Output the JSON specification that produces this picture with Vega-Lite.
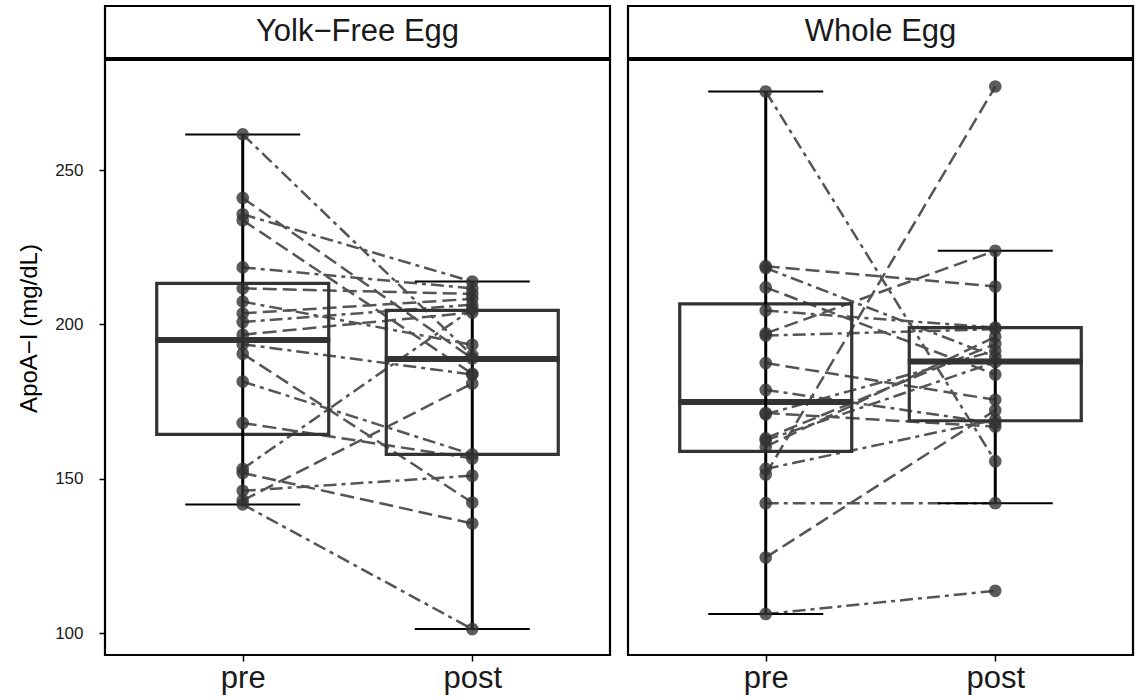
{
  "$schema": "https://vega.github.io/schema/vega-lite/v6.json",
  "padding": {"left": 16, "top": 4, "right": 0, "bottom": 0},
  "datasets": {
    "strips": [{"diet": "Yolk−Free Egg"}, {"diet": "Whole Egg"}],
    "pts": [
      {"diet": "Yolk−Free Egg", "id": "Y01", "time": "pre", "apoa": 261.6}, {"diet": "Yolk−Free Egg", "id": "Y01", "time": "post", "apoa": 190.0},
      {"diet": "Yolk−Free Egg", "id": "Y02", "time": "pre", "apoa": 241.0}, {"diet": "Yolk−Free Egg", "id": "Y02", "time": "post", "apoa": 189.0},
      {"diet": "Yolk−Free Egg", "id": "Y03", "time": "pre", "apoa": 235.7}, {"diet": "Yolk−Free Egg", "id": "Y03", "time": "post", "apoa": 213.9},
      {"diet": "Yolk−Free Egg", "id": "Y04", "time": "pre", "apoa": 233.8}, {"diet": "Yolk−Free Egg", "id": "Y04", "time": "post", "apoa": 184.0},
      {"diet": "Yolk−Free Egg", "id": "Y05", "time": "pre", "apoa": 218.5}, {"diet": "Yolk−Free Egg", "id": "Y05", "time": "post", "apoa": 211.7},
      {"diet": "Yolk−Free Egg", "id": "Y06", "time": "pre", "apoa": 211.7}, {"diet": "Yolk−Free Egg", "id": "Y06", "time": "post", "apoa": 209.9},
      {"diet": "Yolk−Free Egg", "id": "Y07", "time": "pre", "apoa": 207.4}, {"diet": "Yolk−Free Egg", "id": "Y07", "time": "post", "apoa": 193.4},
      {"diet": "Yolk−Free Egg", "id": "Y08", "time": "pre", "apoa": 203.6}, {"diet": "Yolk−Free Egg", "id": "Y08", "time": "post", "apoa": 208.3},
      {"diet": "Yolk−Free Egg", "id": "Y09", "time": "pre", "apoa": 200.8}, {"diet": "Yolk−Free Egg", "id": "Y09", "time": "post", "apoa": 206.4},
      {"diet": "Yolk−Free Egg", "id": "Y10", "time": "pre", "apoa": 196.7}, {"diet": "Yolk−Free Egg", "id": "Y10", "time": "post", "apoa": 203.9},
      {"diet": "Yolk−Free Egg", "id": "Y11", "time": "pre", "apoa": 193.6}, {"diet": "Yolk−Free Egg", "id": "Y11", "time": "post", "apoa": 183.8},
      {"diet": "Yolk−Free Egg", "id": "Y12", "time": "pre", "apoa": 190.5}, {"diet": "Yolk−Free Egg", "id": "Y12", "time": "post", "apoa": 142.3},
      {"diet": "Yolk−Free Egg", "id": "Y13", "time": "pre", "apoa": 181.5}, {"diet": "Yolk−Free Egg", "id": "Y13", "time": "post", "apoa": 157.9},
      {"diet": "Yolk−Free Egg", "id": "Y14", "time": "pre", "apoa": 168.1}, {"diet": "Yolk−Free Egg", "id": "Y14", "time": "post", "apoa": 156.6},
      {"diet": "Yolk−Free Egg", "id": "Y15", "time": "pre", "apoa": 153.2}, {"diet": "Yolk−Free Egg", "id": "Y15", "time": "post", "apoa": 205.0},
      {"diet": "Yolk−Free Egg", "id": "Y16", "time": "pre", "apoa": 151.9}, {"diet": "Yolk−Free Egg", "id": "Y16", "time": "post", "apoa": 135.5},
      {"diet": "Yolk−Free Egg", "id": "Y17", "time": "pre", "apoa": 146.1}, {"diet": "Yolk−Free Egg", "id": "Y17", "time": "post", "apoa": 151.0},
      {"diet": "Yolk−Free Egg", "id": "Y18", "time": "pre", "apoa": 143.0}, {"diet": "Yolk−Free Egg", "id": "Y18", "time": "post", "apoa": 180.9},
      {"diet": "Yolk−Free Egg", "id": "Y19", "time": "pre", "apoa": 141.7}, {"diet": "Yolk−Free Egg", "id": "Y19", "time": "post", "apoa": 101.3},
      {"diet": "Whole Egg", "id": "W01", "time": "pre", "apoa": 275.5}, {"diet": "Whole Egg", "id": "W01", "time": "post", "apoa": 155.7},
      {"diet": "Whole Egg", "id": "W02", "time": "pre", "apoa": 218.9}, {"diet": "Whole Egg", "id": "W02", "time": "post", "apoa": 212.3},
      {"diet": "Whole Egg", "id": "W03", "time": "pre", "apoa": 218.3}, {"diet": "Whole Egg", "id": "W03", "time": "post", "apoa": 189.5},
      {"diet": "Whole Egg", "id": "W04", "time": "pre", "apoa": 212.0}, {"diet": "Whole Egg", "id": "W04", "time": "post", "apoa": 183.8},
      {"diet": "Whole Egg", "id": "W05", "time": "pre", "apoa": 204.5}, {"diet": "Whole Egg", "id": "W05", "time": "post", "apoa": 199.0},
      {"diet": "Whole Egg", "id": "W06", "time": "pre", "apoa": 197.1}, {"diet": "Whole Egg", "id": "W06", "time": "post", "apoa": 223.9},
      {"diet": "Whole Egg", "id": "W07", "time": "pre", "apoa": 196.4}, {"diet": "Whole Egg", "id": "W07", "time": "post", "apoa": 198.5},
      {"diet": "Whole Egg", "id": "W08", "time": "pre", "apoa": 187.5}, {"diet": "Whole Egg", "id": "W08", "time": "post", "apoa": 175.6},
      {"diet": "Whole Egg", "id": "W09", "time": "pre", "apoa": 178.8}, {"diet": "Whole Egg", "id": "W09", "time": "post", "apoa": 168.0},
      {"diet": "Whole Egg", "id": "W10", "time": "pre", "apoa": 171.3}, {"diet": "Whole Egg", "id": "W10", "time": "post", "apoa": 166.9},
      {"diet": "Whole Egg", "id": "W11", "time": "pre", "apoa": 170.9}, {"diet": "Whole Egg", "id": "W11", "time": "post", "apoa": 191.5},
      {"diet": "Whole Egg", "id": "W12", "time": "pre", "apoa": 163.1}, {"diet": "Whole Egg", "id": "W12", "time": "post", "apoa": 193.7},
      {"diet": "Whole Egg", "id": "W13", "time": "pre", "apoa": 162.5}, {"diet": "Whole Egg", "id": "W13", "time": "post", "apoa": 187.8},
      {"diet": "Whole Egg", "id": "W14", "time": "pre", "apoa": 160.4}, {"diet": "Whole Egg", "id": "W14", "time": "post", "apoa": 196.0},
      {"diet": "Whole Egg", "id": "W15", "time": "pre", "apoa": 153.2}, {"diet": "Whole Egg", "id": "W15", "time": "post", "apoa": 169.1},
      {"diet": "Whole Egg", "id": "W16", "time": "pre", "apoa": 151.4}, {"diet": "Whole Egg", "id": "W16", "time": "post", "apoa": 277.1},
      {"diet": "Whole Egg", "id": "W17", "time": "pre", "apoa": 142.1}, {"diet": "Whole Egg", "id": "W17", "time": "post", "apoa": 142.1},
      {"diet": "Whole Egg", "id": "W18", "time": "pre", "apoa": 124.5}, {"diet": "Whole Egg", "id": "W18", "time": "post", "apoa": 172.2},
      {"diet": "Whole Egg", "id": "W19", "time": "pre", "apoa": 106.2}, {"diet": "Whole Egg", "id": "W19", "time": "post", "apoa": 113.7}
    ],
    "box": [
      {"diet": "Yolk−Free Egg", "time": "pre", "lo": 141.7, "q1": 164.4, "med": 195.0, "q3": 213.3, "hi": 261.6},
      {"diet": "Yolk−Free Egg", "time": "post", "lo": 101.3, "q1": 157.9, "med": 188.8, "q3": 204.6, "hi": 213.9},
      {"diet": "Whole Egg", "time": "pre", "lo": 106.2, "q1": 158.9, "med": 174.9, "q3": 206.7, "hi": 275.5},
      {"diet": "Whole Egg", "time": "post", "lo": 142.1, "q1": 168.8, "med": 188.0, "q3": 199.0, "hi": 223.9}
    ]
  },
  "hconcat": [
    {
      "spacing": -6,
      "vconcat": [
        {
          "width": 505, "height": 52,
          "view": {"stroke": "black", "strokeWidth": 2.2, "fill": "white"},
          "data": {"name": "strips"},
          "transform": [{"filter": {"field": "diet", "equal": "Yolk−Free Egg"}}],
          "mark": {"type": "text", "fontSize": 31, "color": "#1a1a1a", "font": "Liberation Sans"},
          "encoding": {
            "x": {"field": "diet", "type": "nominal", "axis": null, "scale": {"type": "point"}},
            "text": {"field": "diet"}
          }
        },
        {
          "width": 505, "height": 595,
          "layer": [
            {
              "data": {"name": "pts"},
              "transform": [{"filter": {"field": "diet", "equal": "Yolk−Free Egg"}}],
              "mark": {"type": "line", "color": "#555555", "strokeWidth": 2.5},
              "encoding": {
                "x": {"field": "time", "type": "nominal", "sort": ["pre", "post"], "scale": {"type": "point", "padding": 0.6}, "axis": {"title": null}},
                "y": {"field": "apoa", "type": "quantitative", "scale": {"domain": [92.9, 285.7], "nice": false, "zero": false}, "axis": {"title": "ApoA−I (mg/dL)", "values": [100, 150, 200, 250], "titleY": 268}},
                "detail": {"field": "id"},
                "strokeDash": {"field": "id", "type": "nominal", "scale": {"range": [[13, 5, 4, 5], [14, 6]]}, "legend": null}
              }
            },
            {
              "data": {"name": "box"},
              "transform": [{"filter": {"field": "diet", "equal": "Yolk−Free Egg"}}],
              "layer": [
                {"mark": {"type": "bar", "width": 172, "filled": false, "stroke": "#333333", "strokeWidth": 3.2},
                 "encoding": {"x": {"field": "time", "type": "nominal", "sort": ["pre", "post"]}, "y": {"field": "q1", "type": "quantitative"}, "y2": {"field": "q3"}}},
                {"mark": {"type": "tick", "size": 175, "thickness": 6, "color": "#333333", "opacity": 1},
                 "encoding": {"x": {"field": "time", "type": "nominal", "sort": ["pre", "post"]}, "y": {"field": "med", "type": "quantitative"}}},
                {"mark": {"type": "rule", "color": "black", "strokeWidth": 3},
                 "encoding": {"x": {"field": "time", "type": "nominal", "sort": ["pre", "post"]}, "y": {"field": "lo", "type": "quantitative"}, "y2": {"field": "hi"}}},
                {"mark": {"type": "tick", "size": 115, "thickness": 2, "color": "black", "opacity": 1},
                 "encoding": {"x": {"field": "time", "type": "nominal", "sort": ["pre", "post"]}, "y": {"field": "lo", "type": "quantitative"}}},
                {"mark": {"type": "tick", "size": 115, "thickness": 2, "color": "black", "opacity": 1},
                 "encoding": {"x": {"field": "time", "type": "nominal", "sort": ["pre", "post"]}, "y": {"field": "hi", "type": "quantitative"}}}
              ]
            },
            {
              "data": {"name": "pts"},
              "transform": [{"filter": {"field": "diet", "equal": "Yolk−Free Egg"}}],
              "mark": {"type": "point", "filled": true, "color": "#333333", "opacity": 0.8, "size": 160},
              "encoding": {
                "x": {"field": "time", "type": "nominal", "sort": ["pre", "post"]},
                "y": {"field": "apoa", "type": "quantitative"}
              }
            }
          ]
        }
      ]
    },
    {
      "spacing": -6,
      "vconcat": [
        {
          "width": 505, "height": 52,
          "view": {"stroke": "black", "strokeWidth": 2.2, "fill": "white"},
          "data": {"name": "strips"},
          "transform": [{"filter": {"field": "diet", "equal": "Whole Egg"}}],
          "mark": {"type": "text", "fontSize": 31, "color": "#1a1a1a", "font": "Liberation Sans"},
          "encoding": {
            "x": {"field": "diet", "type": "nominal", "axis": null, "scale": {"type": "point"}},
            "text": {"field": "diet"}
          }
        },
        {
          "width": 505, "height": 595,
          "layer": [
            {
              "data": {"name": "pts"},
              "transform": [{"filter": {"field": "diet", "equal": "Whole Egg"}}],
              "mark": {"type": "line", "color": "#555555", "strokeWidth": 2.5},
              "encoding": {
                "x": {"field": "time", "type": "nominal", "sort": ["pre", "post"], "scale": {"type": "point", "padding": 0.6}, "axis": {"title": null}},
                "y": {"field": "apoa", "type": "quantitative", "scale": {"domain": [92.9, 285.7], "nice": false, "zero": false}, "axis": null},
                "detail": {"field": "id"},
                "strokeDash": {"field": "id", "type": "nominal", "scale": {"range": [[13, 5, 4, 5], [14, 6]]}, "legend": null}
              }
            },
            {
              "data": {"name": "box"},
              "transform": [{"filter": {"field": "diet", "equal": "Whole Egg"}}],
              "layer": [
                {"mark": {"type": "bar", "width": 172, "filled": false, "stroke": "#333333", "strokeWidth": 3.2},
                 "encoding": {"x": {"field": "time", "type": "nominal", "sort": ["pre", "post"]}, "y": {"field": "q1", "type": "quantitative"}, "y2": {"field": "q3"}}},
                {"mark": {"type": "tick", "size": 175, "thickness": 6, "color": "#333333", "opacity": 1},
                 "encoding": {"x": {"field": "time", "type": "nominal", "sort": ["pre", "post"]}, "y": {"field": "med", "type": "quantitative"}}},
                {"mark": {"type": "rule", "color": "black", "strokeWidth": 3},
                 "encoding": {"x": {"field": "time", "type": "nominal", "sort": ["pre", "post"]}, "y": {"field": "lo", "type": "quantitative"}, "y2": {"field": "hi"}}},
                {"mark": {"type": "tick", "size": 115, "thickness": 2, "color": "black", "opacity": 1},
                 "encoding": {"x": {"field": "time", "type": "nominal", "sort": ["pre", "post"]}, "y": {"field": "lo", "type": "quantitative"}}},
                {"mark": {"type": "tick", "size": 115, "thickness": 2, "color": "black", "opacity": 1},
                 "encoding": {"x": {"field": "time", "type": "nominal", "sort": ["pre", "post"]}, "y": {"field": "hi", "type": "quantitative"}}}
              ]
            },
            {
              "data": {"name": "pts"},
              "transform": [{"filter": {"field": "diet", "equal": "Whole Egg"}}],
              "mark": {"type": "point", "filled": true, "color": "#333333", "opacity": 0.8, "size": 160},
              "encoding": {
                "x": {"field": "time", "type": "nominal", "sort": ["pre", "post"]},
                "y": {"field": "apoa", "type": "quantitative"}
              }
            }
          ]
        }
      ]
    }
  ],
  "spacing": 14,
  "resolve": {"scale": {"x": "independent", "y": "independent", "strokeDash": "independent"}},
  "config": {
    "font": "Liberation Sans",
    "view": {"stroke": "black", "strokeWidth": 2.2},
    "axis": {
      "grid": false, "domain": false,
      "tickColor": "black", "tickSize": 6, "tickWidth": 1.5,
      "labelColor": "#1a1a1a", "labelFont": "Liberation Sans",
      "titleFont": "Liberation Sans", "titleFontWeight": "normal", "titleColor": "black"
    },
    "axisY": {"labelFontSize": 17, "labelPadding": 16, "titleFontSize": 24, "titlePadding": 13},
    "axisX": {"labelFontSize": 31, "labelPadding": 2, "labelAngle": 0}
  }
}
